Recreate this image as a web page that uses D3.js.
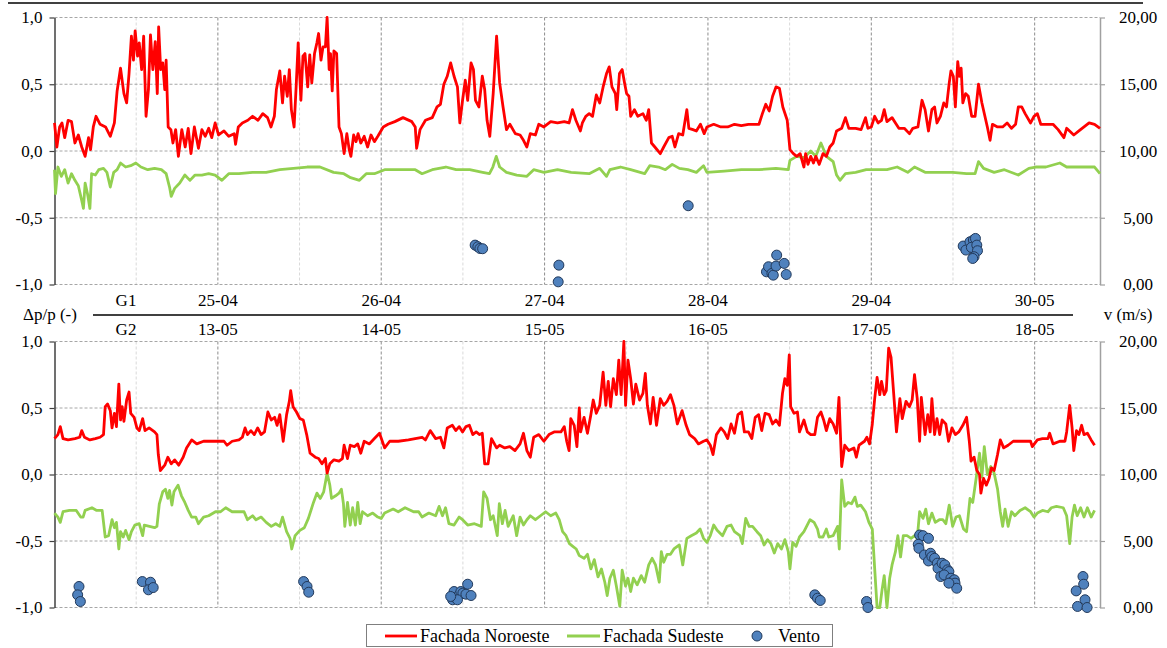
<!DOCTYPE html>
<html><head><meta charset="utf-8">
<script src="https://cdn.jsdelivr.net/npm/d3@7"></script>
<style>body{margin:0;background:#fff} svg{display:block} svg text{font-family:"Liberation Serif","Times New Roman",serif !important}</style>
</head><body><svg id="c" width="1167" height="648"></svg>
<script>
// ---------- DATA ----------
const g1Labels = ["25-04","26-04","27-04","28-04","29-04","30-05"];
const g2Labels = ["13-05","14-05","15-05","16-05","17-05","18-05"];
const pressureTicks = [-1,-0.5,0,0.5,1];
const windTicks = [0,5,10,15,20];
const seriesNames = ["Fachada Noroeste","Fachada Sudeste","Vento"];
// time in hours from start of window, value Δp/p (-)
const g1Noroeste = [[0,0.21],[0.35,0.03],[0.75,0.18],[1.1,0.21],[1.5,0.1],[2,0.23],[2.5,0.22],[3,0.06],[3.5,0.12],[4,0.03],[4.5,-0.04],[5,0.1],[5.3,0.01],[5.7,0.18],[6.1,0.26],[6.7,0.2],[7.5,0.18],[8.2,0.11],[8.8,0.21],[9.2,0.45],[9.7,0.62],[10.2,0.43],[10.6,0.36],[10.95,0.58],[11.3,0.86],[11.6,0.68],[11.85,0.9],[12.2,0.71],[12.45,0.81],[12.8,0.61],[13.1,0.86],[13.45,0.26],[13.8,0.46],[14.1,0.87],[14.45,0.61],[14.8,0.82],[15.1,0.43],[15.3,0.93],[15.6,0.61],[15.9,0.66],[16.2,0.46],[16.4,0.68],[16.7,0.18],[17.1,0.16],[17.4,0.06],[17.8,0.16],[18.2,-0.04],[18.7,0.16],[19.2,0.03],[19.65,0.17],[20.05,-0.02],[20.55,0.18],[21.15,0.02],[21.65,0.16],[22.15,0.11],[22.65,0.17],[23.1,0.1],[23.6,0.21],[24.1,0.12],[24.9,0.15],[25.6,0.11],[26.4,0.13],[26.6,0.05],[27,0.18],[27.6,0.21],[28.4,0.23],[29.1,0.26],[29.9,0.23],[30.6,0.28],[31.3,0.25],[31.8,0.18],[32.3,0.26],[32.6,0.46],[33.1,0.6],[33.5,0.36],[33.8,0.56],[34.2,0.41],[34.5,0.61],[34.8,0.31],[35.2,0.18],[35.5,0.48],[35.8,0.81],[36.2,0.38],[36.5,0.71],[36.8,0.73],[37.2,0.48],[37.5,0.72],[37.8,0.51],[38.2,0.73],[38.55,0.81],[38.8,0.88],[39.15,0.68],[39.45,0.78],[39.8,0.78],[40.05,1.0],[40.35,0.61],[40.55,0.73],[40.8,0.45],[41.05,0.75],[41.45,0.73],[41.8,0.18],[42.15,0.13],[42.55,-0.02],[42.95,0.13],[43.3,0.01],[43.55,-0.04],[43.95,0.12],[44.3,0.07],[44.6,0.13],[45,0.06],[45.5,0.11],[46,0.03],[46.5,0.12],[47,0.07],[47.5,0.11],[48.3,0.18],[49,0.2],[50,0.22],[51.2,0.25],[52.5,0.22],[53,0.18],[53.2,0.02],[53.7,0.16],[54.5,0.23],[55.5,0.25],[56.2,0.33],[56.7,0.35],[57.2,0.5],[57.7,0.56],[58.2,0.66],[58.7,0.56],[59.2,0.48],[59.55,0.21],[59.95,0.38],[60.35,0.53],[60.7,0.38],[61.2,0.66],[61.55,0.61],[61.85,0.38],[62.35,0.33],[62.85,0.56],[63.2,0.46],[63.55,0.23],[63.95,0.11],[64.45,0.43],[64.95,0.86],[65.4,0.51],[65.9,0.33],[66.4,0.16],[66.9,0.2],[67.7,0.13],[68.4,0.12],[68.9,0.08],[69.4,0.03],[69.9,0.13],[70.65,0.12],[71.15,0.2],[71.9,0.18],[72.9,0.22],[73.9,0.21],[74.9,0.22],[75.6,0.21],[76.1,0.31],[76.6,0.23],[77.26,0.15],[77.55,0.21],[78.05,0.26],[78.55,0.28],[79.05,0.26],[79.6,0.42],[80.1,0.36],[80.6,0.48],[81.1,0.58],[81.5,0.63],[81.9,0.48],[82.4,0.43],[82.6,0.31],[83,0.58],[83.4,0.61],[83.75,0.51],[84.05,0.43],[84.4,0.41],[84.65,0.26],[85.2,0.31],[85.7,0.26],[86.45,0.28],[86.95,0.23],[87.3,0.31],[87.7,0.06],[88.2,0.03],[89,-0.02],[89.5,0.03],[90.25,0.1],[90.75,0.11],[91.15,0.03],[91.7,0.13],[92.3,0.12],[92.9,0.31],[93.2,0.17],[93.8,0.16],[94.3,0.15],[94.9,0.2],[95.45,0.13],[95.85,0.18],[96.85,0.2],[97.9,0.18],[98.9,0.18],[99.9,0.2],[100.9,0.19],[101.95,0.2],[102.95,0.2],[103.5,0.2],[104,0.28],[104.5,0.35],[105,0.3],[105.5,0.41],[106,0.48],[106.5,0.47],[107,0.33],[107.65,0.23],[108.05,0.01],[108.55,-0.02],[109.05,-0.04],[109.55,-0.02],[110.1,-0.12],[110.35,-0.02],[110.7,-0.1],[111.1,-0.04],[111.5,-0.09],[111.85,-0.04],[112.35,-0.1],[112.9,-0.02],[113.4,-0.04],[113.9,0.03],[114.4,0.06],[114.9,0.15],[115.65,0.17],[116.2,0.25],[116.7,0.17],[117.7,0.17],[118.5,0.16],[119.15,0.25],[119.5,0.17],[120,0.18],[120.5,0.26],[121,0.21],[121.5,0.23],[121.9,0.31],[122.3,0.22],[123.05,0.25],[123.55,0.21],[124.05,0.17],[124.85,0.17],[125.6,0.13],[126.1,0.17],[126.85,0.18],[127.45,0.38],[127.9,0.31],[128.4,0.15],[128.9,0.31],[129.3,0.33],[129.65,0.21],[130.15,0.26],[130.65,0.36],[131.05,0.33],[131.45,0.51],[131.7,0.6],[132.05,0.56],[132.35,0.33],[132.7,0.67],[132.95,0.56],[133.2,0.62],[133.45,0.36],[133.85,0.43],[134.25,0.41],[134.75,0.26],[135.25,0.26],[135.75,0.5],[136.25,0.36],[137.05,0.18],[137.45,0.08],[137.8,0.2],[138.55,0.18],[139.3,0.18],[139.95,0.21],[140.6,0.17],[141.2,0.2],[141.6,0.33],[142.1,0.33],[142.6,0.28],[143.4,0.21],[143.9,0.26],[144.4,0.28],[144.9,0.2],[145.65,0.2],[146.7,0.2],[147.45,0.16],[148.3,0.1],[148.7,0.17],[149.75,0.12],[150.5,0.15],[151.25,0.18],[152,0.21],[152.8,0.2],[153.6,0.17]];
const g1Sudeste = [[0,-0.14],[0.15,-0.32],[0.5,-0.12],[1,-0.19],[1.5,-0.14],[2,-0.24],[2.5,-0.17],[3,-0.22],[3.5,-0.26],[4,-0.37],[4.25,-0.43],[4.5,-0.24],[4.85,-0.32],[5.2,-0.43],[5.45,-0.17],[6,-0.18],[6.5,-0.14],[7.2,-0.13],[7.7,-0.16],[8.2,-0.27],[8.7,-0.16],[9.2,-0.14],[9.7,-0.09],[10.45,-0.12],[11.2,-0.11],[11.95,-0.09],[12.7,-0.12],[13.7,-0.14],[14.7,-0.13],[15.7,-0.14],[16.4,-0.17],[16.9,-0.27],[17.15,-0.34],[17.65,-0.28],[18.4,-0.24],[19.15,-0.18],[19.9,-0.22],[20.65,-0.18],[21.65,-0.18],[22.65,-0.17],[23.6,-0.18],[24.6,-0.22],[25.6,-0.17],[27.1,-0.17],[29.1,-0.16],[31.1,-0.16],[33.1,-0.14],[35.1,-0.13],[37.1,-0.12],[39,-0.12],[41,-0.16],[42.5,-0.17],[43.5,-0.2],[44.8,-0.22],[45.8,-0.17],[47,-0.17],[48.5,-0.14],[50.5,-0.14],[53,-0.14],[54,-0.17],[55.5,-0.14],[57.5,-0.12],[59,-0.14],[61,-0.14],[62.9,-0.16],[63.9,-0.17],[64.4,-0.12],[64.9,-0.04],[65.4,-0.12],[66.4,-0.16],[67.9,-0.18],[69.4,-0.19],[70.4,-0.14],[71.9,-0.16],[73.9,-0.14],[75.9,-0.16],[78.55,-0.17],[80.1,-0.13],[81.1,-0.19],[81.6,-0.14],[83.15,-0.12],[84.65,-0.14],[86.7,-0.17],[87.45,-0.11],[88.75,-0.12],[89.75,-0.14],[90.75,-0.1],[91.8,-0.13],[93.05,-0.14],[94.3,-0.16],[95.35,-0.11],[95.85,-0.16],[98.4,-0.15],[100.9,-0.14],[103.5,-0.14],[106,-0.13],[107.8,-0.14],[108.05,-0.07],[109.05,-0.04],[110.1,-0.05],[111.1,0.0],[111.85,-0.04],[112.6,0.06],[113.4,-0.04],[114.4,-0.08],[114.9,-0.18],[115.4,-0.22],[116.2,-0.17],[117.7,-0.16],[119.25,-0.14],[120.75,-0.14],[122.3,-0.14],[123.8,-0.12],[125.35,-0.16],[126.35,-0.12],[127.9,-0.16],[129.9,-0.16],[131.95,-0.16],[134,-0.17],[135.25,-0.17],[135.75,-0.08],[136.5,-0.13],[138.05,-0.16],[139.55,-0.14],[141.6,-0.18],[143.15,-0.13],[144.15,-0.12],[145.65,-0.12],[147.7,-0.09],[148.7,-0.12],[150.75,-0.12],[152.8,-0.12],[153.6,-0.17]];
// time in hours, wind speed v (m/s)
const g1Vento = [[61.8,2.95],[62.2,2.83],[62.5,2.7],[62.9,2.68],[74.1,1.45],[74.0,0.2],[93.1,5.9],[104.6,0.95],[104.9,1.33],[105.4,0.83],[105.6,0.7],[106.0,1.38],[106.1,2.2],[107.2,1.58],[107.5,0.75],[133.5,2.88],[133.9,2.58],[134.5,3.2],[135.0,3.33],[135.3,3.45],[134.7,2.78],[135.5,2.95],[135.6,2.53],[135.1,2.08],[134.9,1.95]];
const g2Noroeste = [[0,0.27],[0.5,0.3],[0.85,0.36],[1.25,0.27],[2,0.26],[3,0.27],[3.7,0.28],[4,0.33],[4.4,0.28],[5.2,0.26],[6,0.27],[6.7,0.28],[7.2,0.3],[7.45,0.51],[7.8,0.53],[8.2,0.48],[8.45,0.35],[8.8,0.46],[9.1,0.36],[9.45,0.68],[9.7,0.41],[9.95,0.51],[10.2,0.4],[10.6,0.56],[10.95,0.62],[11.2,0.46],[11.7,0.43],[12.1,0.35],[12.45,0.33],[12.95,0.42],[13.3,0.33],[13.9,0.35],[14.7,0.32],[15.05,0.3],[15.25,0.15],[15.55,0.03],[16.2,0.07],[16.65,0.13],[17.15,0.08],[17.65,0.11],[18.25,0.07],[18.9,0.13],[19.4,0.2],[20.15,0.26],[20.9,0.23],[21.9,0.25],[22.9,0.25],[23.9,0.25],[24.9,0.25],[25.35,0.22],[26.1,0.25],[27.1,0.26],[27.6,0.28],[28,0.35],[28.35,0.3],[28.85,0.33],[29.35,0.3],[29.85,0.35],[30.35,0.3],[30.85,0.32],[31.35,0.47],[31.85,0.41],[32.35,0.43],[32.7,0.37],[33.1,0.45],[33.6,0.25],[34.1,0.45],[34.5,0.55],[34.7,0.63],[35.05,0.51],[35.55,0.47],[36.05,0.42],[36.55,0.41],[37.05,0.3],[37.55,0.16],[38.3,0.13],[38.8,0.12],[39.3,0.08],[39.8,0.12],[40.05,0.01],[40.45,0.08],[41.05,0.11],[41.8,0.1],[42.3,0.12],[42.55,0.22],[43.05,0.12],[43.45,0.22],[44.05,0.21],[44.55,0.23],[45,0.16],[45.5,0.25],[46.25,0.23],[47,0.27],[47.75,0.31],[48.5,0.2],[49.25,0.25],[50.5,0.25],[52,0.26],[53,0.27],[54,0.28],[54.5,0.26],[55.2,0.33],[56,0.27],[56.7,0.28],[57.2,0.2],[57.7,0.35],[58.45,0.37],[58.95,0.33],[59.45,0.36],[59.95,0.32],[60.45,0.36],[60.95,0.37],[61.45,0.3],[61.95,0.32],[62.45,0.3],[62.85,0.31],[63.2,0.08],[63.7,0.08],[64.2,0.27],[64.95,0.2],[65.4,0.22],[66.15,0.2],[66.9,0.21],[67.65,0.18],[68.4,0.23],[68.9,0.31],[69.4,0.18],[69.9,0.13],[70.4,0.28],[71.15,0.3],[71.9,0.25],[72.65,0.3],[73.4,0.32],[74.4,0.32],[74.9,0.36],[75.25,0.25],[75.6,0.18],[75.85,0.42],[76.35,0.37],[76.75,0.21],[77.1,0.5],[77.3,0.32],[77.8,0.43],[78.3,0.31],[78.8,0.45],[79.15,0.56],[79.6,0.46],[80.1,0.52],[80.6,0.77],[81,0.52],[81.35,0.7],[81.7,0.51],[82.1,0.72],[82.55,0.6],[82.9,0.86],[83.25,0.6],[83.65,1.0],[83.9,0.52],[84.25,0.86],[84.65,0.72],[85.05,0.53],[85.4,0.68],[85.95,0.56],[86.45,0.61],[86.8,0.76],[87.1,0.52],[87.55,0.38],[87.95,0.58],[88.45,0.37],[89,0.57],[89.5,0.52],[90,0.55],[90.5,0.6],[91,0.52],[91.5,0.38],[92.2,0.48],[92.8,0.37],[93.3,0.3],[94.05,0.27],[94.6,0.23],[95.35,0.25],[95.85,0.26],[96.35,0.22],[96.75,0.15],[97.25,0.3],[97.9,0.35],[98.4,0.32],[98.9,0.27],[99.4,0.38],[99.9,0.31],[100.4,0.45],[100.95,0.47],[101.35,0.32],[101.95,0.32],[102.45,0.27],[102.95,0.43],[103.45,0.45],[103.9,0.33],[104.4,0.46],[105,0.45],[105.5,0.38],[106,0.41],[106.5,0.37],[106.95,0.61],[107.3,0.72],[107.65,0.67],[107.95,0.9],[108.15,0.51],[108.65,0.46],[109.15,0.47],[109.45,0.32],[110.1,0.41],[110.6,0.32],[111.1,0.3],[111.7,0.3],[112.1,0.43],[112.6,0.47],[113,0.41],[113.4,0.33],[113.9,0.42],[114.4,0.38],[114.9,0.31],[115.25,0.58],[115.65,0.06],[116.1,0.22],[116.7,0.18],[117.45,0.2],[117.8,0.13],[118.2,0.22],[119,0.25],[119.35,0.28],[119.75,0.23],[120.15,0.38],[120.5,0.57],[120.85,0.73],[121.25,0.6],[121.5,0.7],[121.9,0.6],[122.2,0.63],[122.55,0.95],[122.9,0.88],[123.3,0.6],[123.7,0.32],[124.2,0.57],[124.55,0.42],[125.1,0.55],[125.6,0.51],[126,0.56],[126.35,0.75],[126.75,0.57],[127.1,0.25],[127.35,0.58],[127.9,0.3],[128.3,0.45],[128.65,0.32],[128.9,0.57],[129.3,0.3],[129.65,0.42],[130.05,0.3],[130.4,0.41],[130.95,0.38],[131.35,0.25],[131.85,0.35],[132.35,0.3],[132.85,0.32],[133.45,0.37],[134,0.43],[134.4,0.25],[134.65,0.1],[135.1,0.13],[135.5,0.03],[135.9,0.0],[136.1,-0.14],[136.5,-0.03],[136.9,-0.08],[137.3,-0.03],[137.65,0.05],[138.05,0.03],[138.55,0.15],[138.95,0.26],[139.45,0.2],[140.1,0.22],[140.85,0.25],[141.6,0.25],[142.6,0.25],[143.4,0.25],[143.65,0.21],[144.4,0.26],[145.15,0.27],[145.95,0.27],[146.2,0.31],[146.7,0.23],[147.7,0.25],[148.45,0.25],[148.7,0.32],[149.15,0.52],[149.5,0.35],[149.75,0.18],[150.15,0.33],[150.5,0.3],[150.9,0.37],[151.25,0.3],[151.75,0.31],[152.3,0.26],[152.8,0.22]];
const g2Sudeste = [[0,-0.29],[0.5,-0.32],[0.85,-0.36],[1.25,-0.28],[2.2,-0.27],[3.2,-0.27],[3.85,-0.32],[4.2,-0.32],[4.5,-0.27],[5.5,-0.25],[6.2,-0.27],[7,-0.27],[7.45,-0.47],[7.95,-0.46],[8.45,-0.34],[8.8,-0.4],[9.1,-0.36],[9.45,-0.56],[9.7,-0.43],[10.1,-0.47],[10.45,-0.42],[10.95,-0.49],[11.3,-0.43],[11.8,-0.38],[12.45,-0.37],[12.95,-0.46],[13.2,-0.38],[13.95,-0.39],[14.7,-0.4],[15.05,-0.39],[15.4,-0.22],[15.9,-0.13],[16.3,-0.11],[16.65,-0.18],[16.9,-0.12],[17.25,-0.23],[17.55,-0.13],[18.15,-0.08],[18.65,-0.16],[19.15,-0.21],[19.65,-0.27],[20.15,-0.32],[20.75,-0.32],[21.15,-0.37],[21.9,-0.32],[22.65,-0.31],[23.65,-0.28],[24.4,-0.28],[25.15,-0.25],[26.1,-0.28],[27.1,-0.28],[27.85,-0.28],[28.35,-0.34],[29.1,-0.31],[29.6,-0.34],[30.35,-0.32],[31.1,-0.36],[31.85,-0.39],[32.5,-0.37],[33.1,-0.39],[33.5,-0.32],[34.1,-0.43],[34.6,-0.48],[34.85,-0.56],[35.35,-0.46],[36.05,-0.42],[36.7,-0.4],[37.3,-0.33],[38.05,-0.21],[38.55,-0.14],[39.05,-0.18],[39.55,-0.13],[40.05,0.01],[40.45,-0.08],[40.7,-0.18],[41.3,-0.16],[41.8,-0.14],[42.15,-0.11],[42.45,-0.22],[42.65,-0.39],[43.05,-0.21],[43.45,-0.38],[43.8,-0.25],[44.2,-0.38],[44.55,-0.21],[44.9,-0.37],[45.25,-0.28],[46,-0.31],[46.75,-0.29],[47.5,-0.32],[48,-0.33],[48.5,-0.29],[49.75,-0.26],[50.5,-0.28],[51.5,-0.25],[52.75,-0.28],[53.5,-0.28],[54,-0.32],[55,-0.29],[56,-0.31],[56.5,-0.24],[57,-0.31],[57.45,-0.25],[57.95,-0.37],[58.7,-0.38],[59.45,-0.32],[59.95,-0.34],[60.7,-0.38],[61.7,-0.37],[62.7,-0.39],[63.05,-0.13],[63.55,-0.18],[64.05,-0.34],[64.45,-0.31],[65.05,-0.46],[65.35,-0.22],[65.8,-0.37],[66.2,-0.27],[66.65,-0.39],[67.4,-0.31],[67.9,-0.46],[68.4,-0.32],[68.9,-0.38],[69.4,-0.34],[69.9,-0.31],[70.65,-0.34],[71.4,-0.31],[72.15,-0.28],[72.9,-0.31],[73.65,-0.29],[74.15,-0.34],[74.65,-0.43],[75.15,-0.46],[75.65,-0.52],[76.15,-0.54],[76.65,-0.56],[77.1,-0.61],[77.8,-0.63],[78.3,-0.6],[78.8,-0.71],[79.3,-0.64],[79.85,-0.77],[80.35,-0.71],[80.85,-0.81],[81.2,-0.91],[81.6,-0.78],[82.1,-0.72],[82.55,-0.84],[83.05,-0.99],[83.4,-0.72],[83.9,-0.84],[84.25,-0.78],[84.65,-0.88],[85.05,-0.78],[85.6,-0.83],[86.2,-0.76],[86.7,-0.81],[87.3,-0.68],[87.8,-0.63],[88.3,-0.68],[88.85,-0.81],[89.15,-0.58],[89.5,-0.66],[90,-0.6],[90.5,-0.6],[91,-0.56],[91.8,-0.53],[92.3,-0.68],[92.9,-0.48],[93.55,-0.46],[94.3,-0.44],[94.85,-0.41],[95.35,-0.48],[95.85,-0.51],[96.35,-0.46],[96.85,-0.38],[97.35,-0.42],[98.15,-0.46],[98.8,-0.39],[99.4,-0.38],[99.9,-0.43],[100.7,-0.46],[101.05,-0.52],[101.55,-0.33],[102.05,-0.39],[102.55,-0.39],[103.2,-0.43],[103.75,-0.46],[104.25,-0.53],[104.75,-0.49],[105.25,-0.52],[105.75,-0.59],[106.25,-0.52],[106.8,-0.56],[107.3,-0.49],[107.8,-0.58],[108.05,-0.71],[108.45,-0.51],[108.95,-0.54],[109.45,-0.47],[110.1,-0.43],[111,-0.34],[111.6,-0.36],[112.1,-0.41],[112.35,-0.47],[112.9,-0.47],[113.4,-0.41],[113.75,-0.47],[114.4,-0.46],[115.05,-0.39],[115.3,-0.56],[115.65,-0.04],[116.1,-0.24],[116.6,-0.21],[117.1,-0.22],[117.6,-0.17],[117.95,-0.24],[118.45,-0.23],[119.15,-0.28],[119.65,-0.36],[120.15,-0.41],[120.5,-0.71],[120.85,-1.0],[121.25,-1.0],[121.6,-0.86],[121.9,-0.76],[122.3,-1.0],[122.7,-0.78],[123.05,-0.68],[123.55,-0.58],[123.9,-0.46],[124.3,-0.62],[124.7,-0.46],[125.25,-0.46],[125.85,-0.48],[126.35,-0.46],[126.75,-0.48],[127.1,-0.28],[127.6,-0.33],[128,-0.26],[128.4,-0.37],[128.9,-0.29],[129.4,-0.36],[130,-0.34],[130.5,-0.34],[130.95,-0.37],[131.45,-0.23],[131.95,-0.39],[132.45,-0.32],[132.95,-0.31],[133.55,-0.41],[134,-0.43],[134.5,-0.18],[134.9,-0.21],[135.4,-0.03],[135.9,0.16],[136.25,-0.02],[136.6,0.21],[137.05,0.0],[137.55,0.06],[138.05,0.01],[138.55,-0.11],[138.95,-0.28],[139.3,-0.39],[139.65,-0.26],[140.1,-0.39],[140.6,-0.28],[141.1,-0.31],[141.85,-0.27],[142.6,-0.25],[143.4,-0.28],[143.9,-0.32],[144.4,-0.29],[145.15,-0.27],[145.95,-0.28],[146.45,-0.25],[147.2,-0.24],[148.2,-0.25],[148.7,-0.31],[149.15,-0.52],[149.5,-0.32],[149.85,-0.23],[150.25,-0.31],[150.75,-0.25],[151.25,-0.32],[151.75,-0.25],[152.3,-0.32],[152.8,-0.27]];
const g2Vento = [[3.6,1.58],[3.4,0.95],[3.8,0.45],[12.9,1.95],[14.1,1.9],[13.8,1.33],[14.5,1.5],[36.6,1.95],[37.1,1.58],[37.35,1.15],[60.7,1.75],[58.7,1.2],[58.5,0.58],[59.0,0.7],[59.45,0.95],[59.7,1.2],[60.0,1.08],[60.45,1.0],[61.2,0.9],[59.2,0.58],[58.2,0.83],[111.7,0.95],[112.1,0.7],[112.5,0.53],[119.3,0.45],[119.5,0.0],[127.1,5.45],[127.6,5.4],[128.4,5.2],[126.9,4.75],[127.0,4.45],[127.8,3.95],[128.7,4.08],[128.4,3.5],[128.9,3.83],[129.3,3.7],[129.7,3.33],[129.8,2.95],[130.4,3.33],[130.8,3.2],[131.2,2.83],[131.4,2.7],[130.2,2.33],[130.7,2.45],[131.7,2.2],[131.9,1.95],[132.2,2.08],[132.3,1.83],[132.55,1.45],[131.4,1.83],[151.1,2.33],[151.2,1.75],[150.1,1.25],[151.4,0.58],[150.3,0.08],[151.7,0.0]];

// ---------- CHART ----------
const RED = "#FF0000", GREEN = "#92D050", BLUE = "#4F81BD", BLUE_STROKE = "#22395A";
const FONT = "'Liberation Serif','Times New Roman',serif";
const loc = d3.formatLocale({decimal:",", thousands:".", grouping:[3], currency:["",""], minus:"-"});
const fmtP = loc.format(".1f"), fmtV = loc.format(".2f");
const svg = d3.select("#c");
const FS = 17;
const LW = 2.8;

const x = d3.scaleLinear().domain([0, 153.6]).range([54.5, 1100]);

svg.append("line").attr("x1", 8).attr("x2", 1143).attr("y1", 3).attr("y2", 3)
  .attr("stroke", "#000").attr("stroke-width", 1.5);

const panels = [
  {top: 17.5, bottom: 284.5, nor: g1Noroeste, sud: g1Sudeste, wind: g1Vento},
  {top: 341.5, bottom: 607.5, nor: g2Noroeste, sud: g2Sudeste, wind: g2Vento}
];

panels.forEach(p => {
  const y = d3.scaleLinear().domain([-1, 1]).range([p.bottom, p.top]);
  const yv = d3.scaleLinear().domain([0, 20]).range([p.bottom, p.top]);
  const g = svg.append("g");
  const halfDays = d3.range(0.5, 6.4, 1).map(d => d * 24);
  const days = d3.range(1, 7).map(d => d * 24);
  g.selectAll(".vl").data(halfDays).join("line")
    .attr("x1", d => x(d)).attr("x2", d => x(d)).attr("y1", p.top).attr("y2", p.bottom)
    .attr("stroke", "#D9D9D9").attr("stroke-dasharray", "3,2").attr("stroke-width", 1);
  g.selectAll(".vd").data(days).join("line")
    .attr("x1", d => x(d)).attr("x2", d => x(d)).attr("y1", p.top).attr("y2", p.bottom)
    .attr("stroke", "#8C8C8C").attr("stroke-dasharray", "3,2").attr("stroke-width", 1);
  g.selectAll(".hg").data(pressureTicks).join("line")
    .attr("x1", x.range()[0]).attr("x2", x.range()[1]).attr("y1", d => y(d)).attr("y2", d => y(d))
    .attr("stroke", "#A6A6A6").attr("stroke-dasharray", "3,2").attr("stroke-width", 1);

  const la = g.append("g").attr("transform", `translate(${x.range()[0]},0)`)
    .call(d3.axisLeft(y).tickValues(pressureTicks).tickFormat(fmtP).tickSize(5).tickSizeOuter(0).tickPadding(7));
  la.attr("font-family", FONT);
  la.select(".domain").attr("stroke", "#404040").attr("stroke-width", 1.5);
  la.selectAll(".tick line").attr("stroke", "#404040").attr("stroke-width", 1.2);
  la.selectAll("text").attr("font-size", FS).style("font-family", FONT).attr("fill", "#000");

  const ra = g.append("g").attr("transform", `translate(${x.range()[1]},0)`)
    .call(d3.axisRight(yv).tickValues(windTicks).tickFormat(fmtV).tickSize(5).tickSizeOuter(0));
  ra.attr("font-family", FONT);
  ra.select(".domain").attr("stroke", "#A0A0A0").attr("stroke-width", 1.5);
  ra.selectAll(".tick line").attr("stroke", "#A0A0A0").attr("stroke-width", 1.2);
  ra.selectAll("text").attr("font-size", FS).style("font-family", FONT).attr("fill", "#000")
    .attr("text-anchor", "middle").attr("x", 38);

  const line = d3.line().x(d => x(d[0])).y(d => y(d[1]));
  g.append("path").datum(p.sud).attr("d", line).attr("fill", "none")
    .attr("stroke", GREEN).attr("stroke-width", LW).attr("stroke-linejoin", "round");
  g.append("path").datum(p.nor).attr("d", line).attr("fill", "none")
    .attr("stroke", RED).attr("stroke-width", LW).attr("stroke-linejoin", "round");
  g.selectAll(".w").data(p.wind).join("circle")
    .attr("cx", d => x(d[0])).attr("cy", d => yv(d[1])).attr("r", 5)
    .attr("fill", BLUE).attr("stroke", BLUE_STROKE).attr("stroke-width", 1);
});

// middle date band
const mid = svg.append("g").attr("font-size", FS).attr("fill", "#000").style("font-family", FONT);
mid.append("line").attr("x1", 93).attr("x2", 1073).attr("y1", 315).attr("y2", 315)
  .attr("stroke", "#000").attr("stroke-width", 1.5);
mid.append("text").attr("x", 126).attr("y", 306).attr("text-anchor", "middle").text("G1");
mid.append("text").attr("x", 126).attr("y", 335).attr("text-anchor", "middle").text("G2");
mid.selectAll(".l1").data(g1Labels).join("text")
  .attr("x", (d, i) => x((i + 1) * 24)).attr("y", 306).attr("text-anchor", "middle").text(d => d);
mid.selectAll(".l2").data(g2Labels).join("text")
  .attr("x", (d, i) => x((i + 1) * 24)).attr("y", 335).attr("text-anchor", "middle").text(d => d);
mid.append("text").attr("x", 50).attr("y", 320).attr("text-anchor", "middle").text("Δp/p (-)");
mid.append("text").attr("x", 1128).attr("y", 320).attr("text-anchor", "middle").text("v (m/s)");

// legend
const lg = svg.append("g").attr("font-size", 18).style("font-family", FONT);
lg.append("rect").attr("x", 366.5).attr("y", 624.5).attr("width", 466).attr("height", 22)
  .attr("fill", "#fff").attr("stroke", "#7F7F7F").attr("stroke-width", 1);
lg.append("line").attr("x1", 385).attr("x2", 417).attr("y1", 636).attr("y2", 636).attr("stroke", RED).attr("stroke-width", LW);
lg.append("text").attr("x", 420).attr("y", 642).text(seriesNames[0]);
lg.append("line").attr("x1", 567).attr("x2", 600).attr("y1", 636).attr("y2", 636).attr("stroke", GREEN).attr("stroke-width", LW);
lg.append("text").attr("x", 603).attr("y", 642).text(seriesNames[1]);
lg.append("circle").attr("cx", 757).attr("cy", 636).attr("r", 5).attr("fill", BLUE).attr("stroke", BLUE_STROKE);
lg.append("text").attr("x", 778).attr("y", 642).text(seriesNames[2]);
</script></body></html>
